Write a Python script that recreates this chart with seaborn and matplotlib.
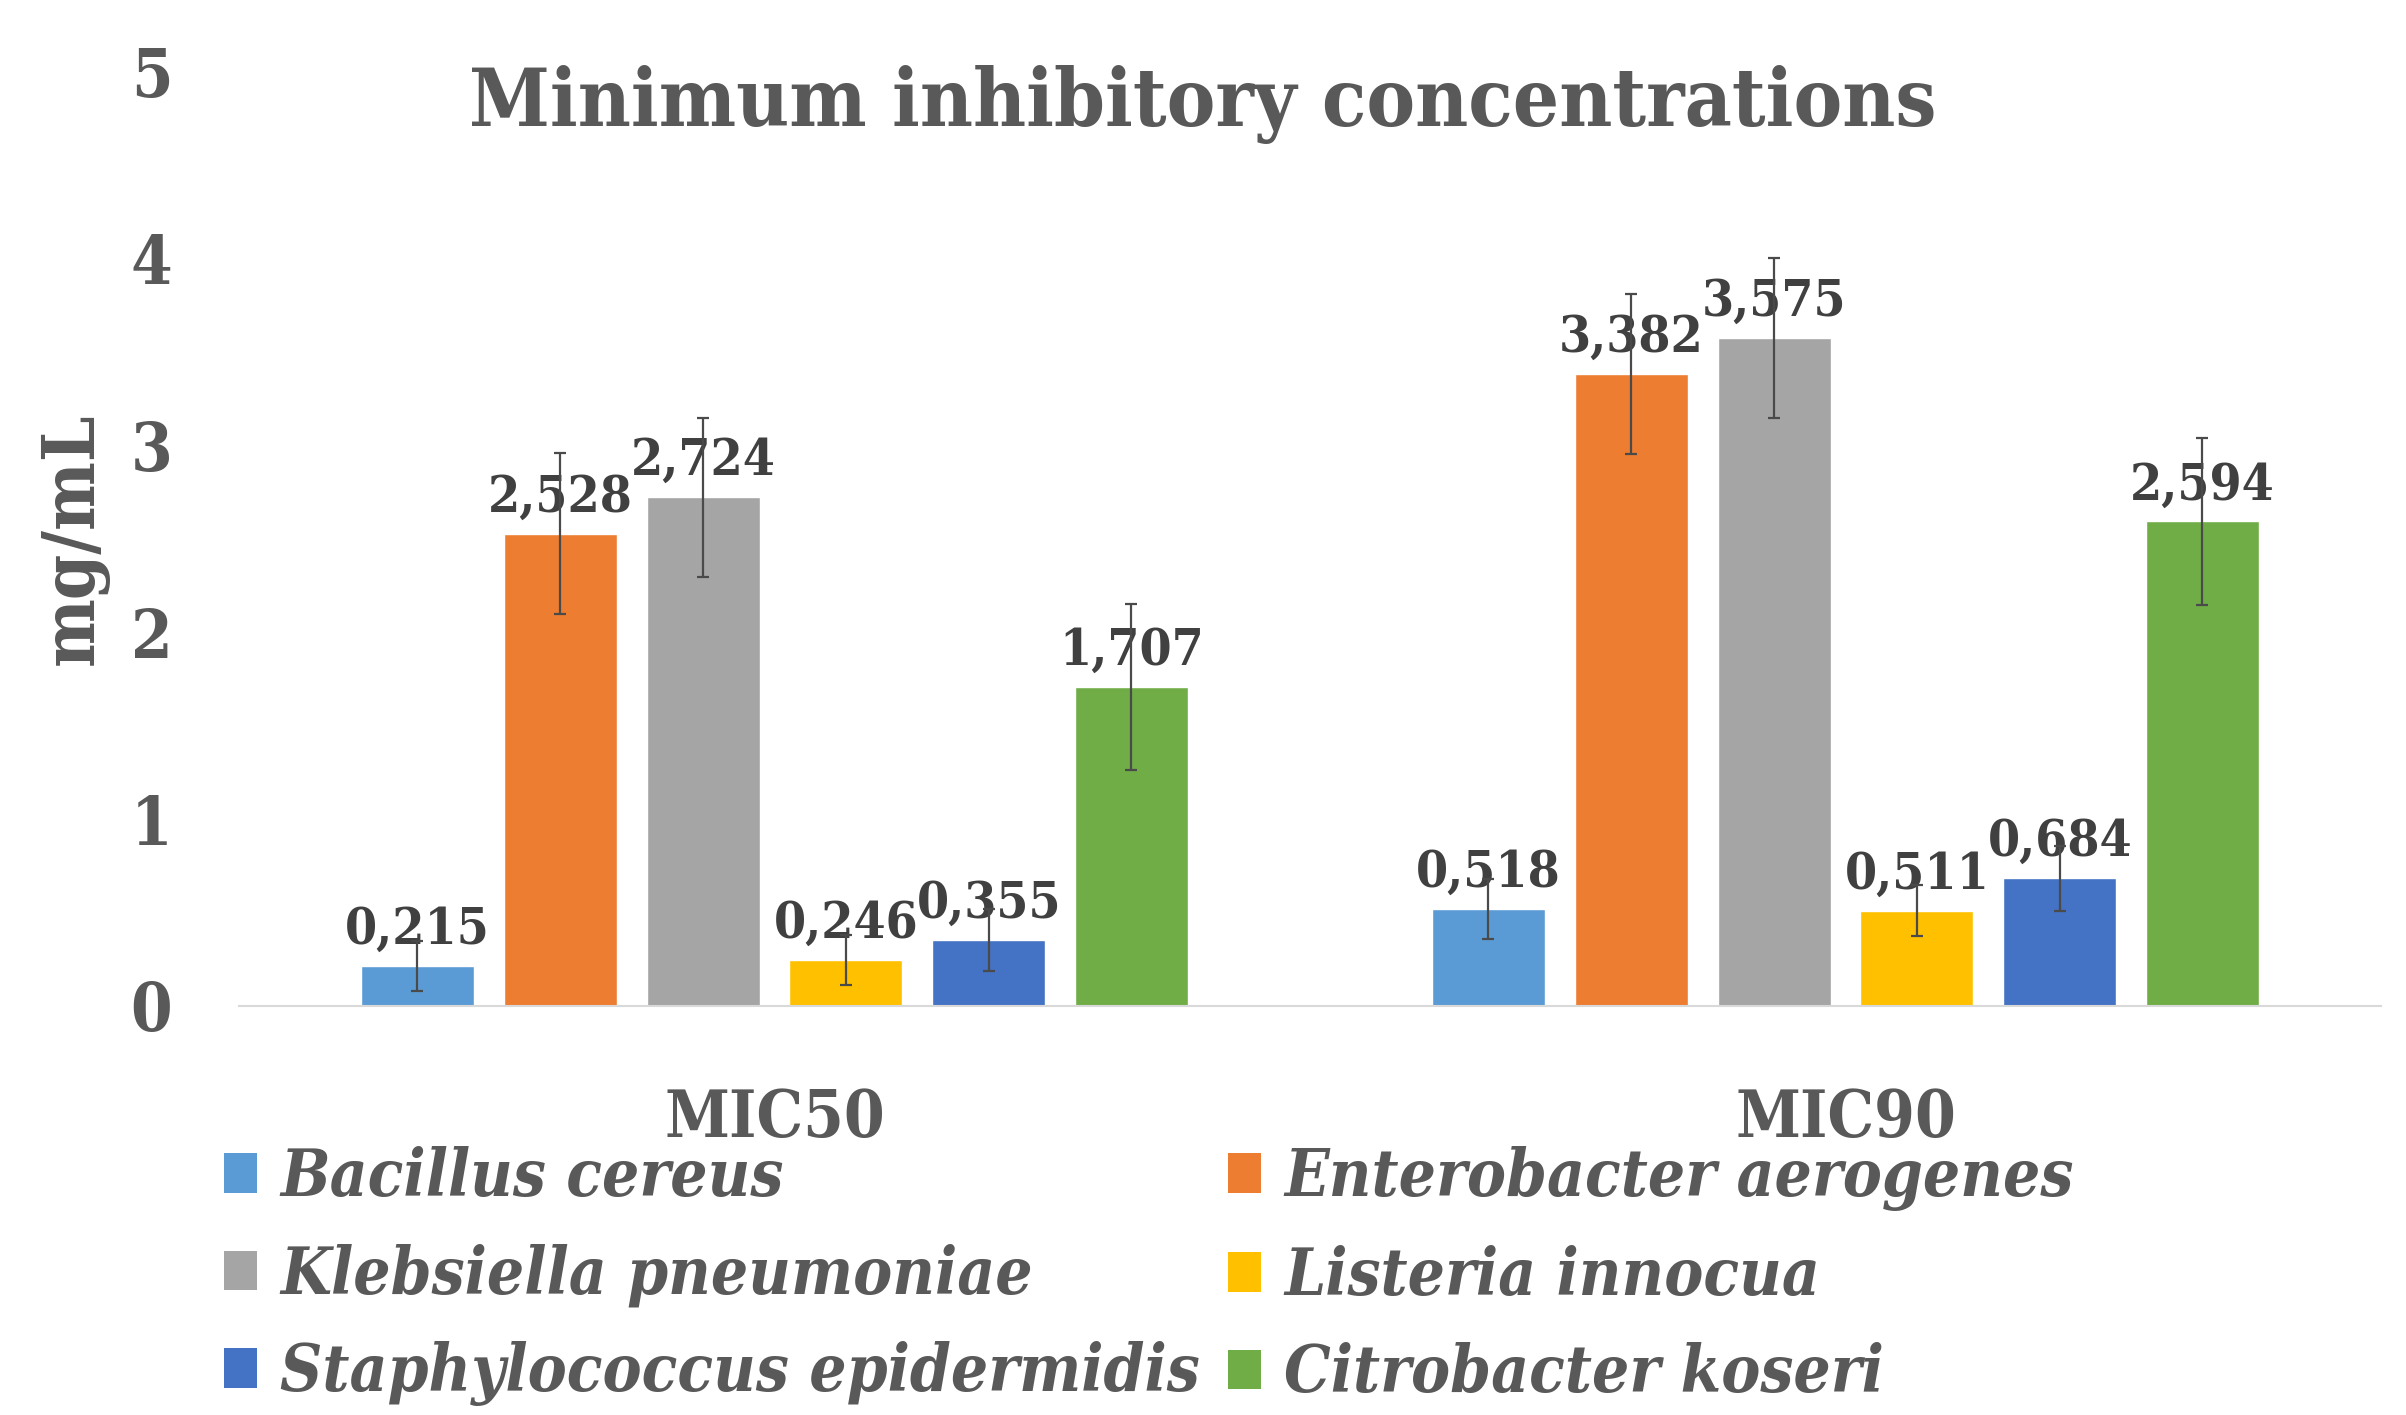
import matplotlib
matplotlib.use("Agg")
import matplotlib.pyplot as plt
import seaborn as sns
import pandas as pd
import numpy as np
from matplotlib.patches import Patch

# ---- data ----
categories = ["MIC50", "MIC90"]
species = ["Bacillus cereus", "Enterobacter aerogenes", "Klebsiella pneumoniae",
           "Listeria innocua", "Staphylococcus epidermidis", "Citrobacter koseri"]
mic50 = [0.215, 2.528, 2.724, 0.246, 0.355, 1.707]
mic90 = [0.518, 3.382, 3.575, 0.511, 0.684, 2.594]
err50 = [0.135, 0.430, 0.425, 0.135, 0.165, 0.445]
err90 = [0.160, 0.427, 0.427, 0.137, 0.173, 0.445]
colors = ["#5B9BD5", "#ED7D31", "#A5A5A5", "#FFC000", "#4472C4", "#70AD47"]
yticks = [0, 1, 2, 3, 4, 5]
title = "Minimum inhibitory concentrations"
ylabel = "mg/mL"

rows = []
for i, sp in enumerate(species):
    rows.append({"cat": categories[0], "species": sp, "val": mic50[i], "err": err50[i]})
    rows.append({"cat": categories[1], "species": sp, "val": mic90[i], "err": err90[i]})
df = pd.DataFrame(rows)

sns.set_style("white")
plt.rcParams["font.family"] = ["DejaVu Serif"]
plt.rcParams["font.weight"] = "bold"
plt.rcParams["font.stretch"] = "condensed"

W, H = 2406, 1415
fig = plt.figure(figsize=(W / 100, H / 100), dpi=100)
ax = fig.add_axes([239 / W, 1 - 1006 / H, 2142 / W, 934 / H])

sns.barplot(data=df, x="cat", y="val", hue="species", order=categories,
            hue_order=species, palette=colors, width=0.8, gap=0.21,
            errorbar=None, ax=ax, legend=False, saturation=1)

ax.set_xlim(-0.5, 1.5)
ax.set_ylim(0, 5)
ax.set_yticks(yticks)
ax.set_yticklabels([str(t) for t in yticks])

txtc = "#595959"
labc = "#404040"
bar_containers = list(ax.containers)
for sp_i, cont in enumerate(bar_containers):
    sp = species[sp_i]
    xs, ys, es, labs = [], [], [], []
    for ci, bar in enumerate(cont):
        sub = df[(df.species == sp) & (df.cat == categories[ci])].iloc[0]
        xs.append(bar.get_x() + bar.get_width() / 2)
        ys.append(bar.get_height())
        es.append(sub.err)
        labs.append(f"{sub.val:.3f}".replace(".", ","))
    ax.errorbar(xs, ys, yerr=es, fmt="none", ecolor="#4a4a4a", elinewidth=1.6,
                capsize=4, capthick=1.6, zorder=5)
    ax.bar_label(cont, labels=labs, padding=8, fontsize=37, color=labc,
                 fontweight="bold", zorder=4)

for s in ["left", "top", "right"]:
    ax.spines[s].set_visible(False)
ax.spines["bottom"].set_color("#D9D9D9")
ax.spines["bottom"].set_linewidth(1.5)

ax.tick_params(axis="y", length=0, pad=48, labelsize=48, labelcolor=txtc)
ax.tick_params(axis="x", length=0, pad=58, labelsize=47, labelcolor=txtc)
ax.set_xlabel("")
ax.set_ylabel(ylabel, fontsize=52, color=txtc, fontweight="bold")
ax.yaxis.set_label_coords(-0.061, 0.5)

fig.text(0.5, 1 - 104 / H, title, ha="center", va="center", fontsize=58.5,
         color=txtc, fontweight="bold")

handles = [Patch(facecolor=c, edgecolor="none", label=s) for c, s in zip(colors, species)]
col1 = [handles[0], handles[2], handles[4]]
col2 = [handles[1], handles[3], handles[5]]
leg_kw = dict(frameon=False, handlelength=0.51, handleheight=0.55,
              handletextpad=0.35, labelspacing=0.52, borderpad=0, borderaxespad=0,
              loc="center left", labelcolor=txtc,
              prop={"style": "italic", "weight": "bold", "size": 47})
fig.legend(handles=col1, bbox_to_anchor=(224 / W, 1 - 1276 / H), **leg_kw)
fig.legend(handles=col2, bbox_to_anchor=(1228 / W, 1 - 1276 / H), **leg_kw)

fig.savefig("out.png", dpi=100)
